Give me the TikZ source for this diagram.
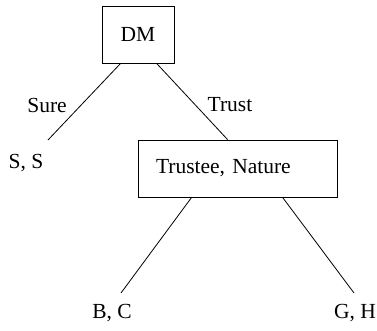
\documentclass[tikz,border=0pt]{standalone}
\usepackage{fontspec}
\setmainfont{Liberation Serif}
\usepackage{tikz}

\begin{document}
\begin{tikzpicture}[x=1pt,y=-1pt,line width=0.8pt,
  every node/.style={font=\fontsize{21.5}{26}\selectfont},
  player/.style={draw,inner sep=0pt,minimum height=57pt},
  leaf/.style={inner sep=0pt}]
\useasboundingbox (0,0) rectangle (377,330);
% decision nodes
\node[player,minimum width=72pt] (dm) at (138,34.5) {DM};
\node[player,text width=163pt,inner xsep=18pt,align=left] (tn) at (237.5,168.5) {Trustee, Nature};
% outcomes
\node[leaf] (ss) at (26,163) {S, S};
\node[leaf] (bc) at (112,313) {B, C};
\node[leaf] (gh) at (355,313) {G, H};
\coordinate (ssend) at (48,140);
\coordinate (bcend) at (121,293);
\coordinate (ghend) at (354,293);
% branches
\draw ([xshift=19pt]dm.south west) -- (ssend);
\draw ([xshift=55pt]dm.south west) -- ([xshift=90pt]tn.north west);
\draw ([xshift=54pt]tn.south west) -- (bcend);
\draw ([xshift=145pt]tn.south west) -- (ghend);
% branch labels
\node[leaf] (sure) at (47,105) {Sure};
\node[leaf] (trust) at (230,105) {Trust};
\end{tikzpicture}
\end{document}
